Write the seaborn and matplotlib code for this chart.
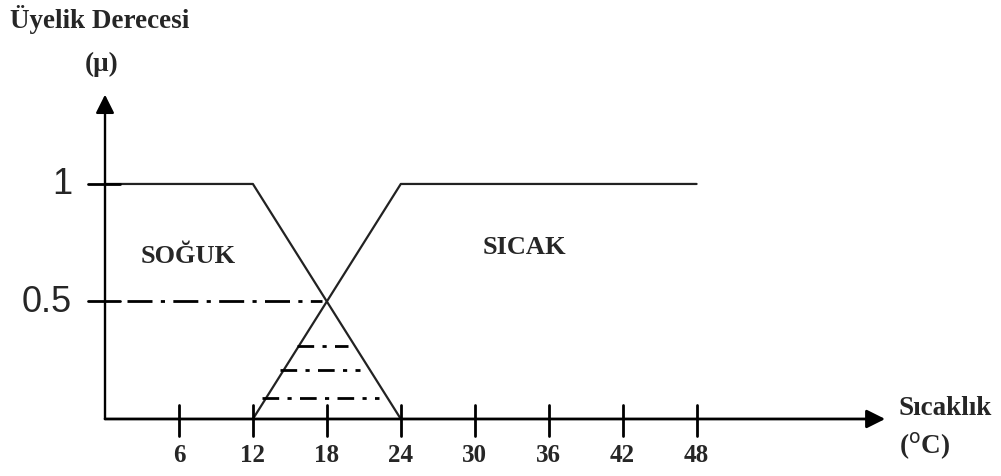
"""
Fuzzy membership functions: SOĞUK / SICAK over temperature.
"""

import numpy as np
import pandas as pd
import seaborn as sns
import matplotlib.pyplot as plt

# membership function corner points
soguk_x = [0, 12, 24]
soguk_y = [1, 1, 0]
sicak_x = [12, 24, 48]
sicak_y = [0, 1, 1]

# x axis ticks
x_ticks = [6, 12, 18, 24, 30, 36, 42, 48]
y_tick_values = [1, 0.5]
y_tick_labels = ['1', '0.5']

# dash-dot cut levels (alpha cuts) inside the overlap
cut_levels = [0.31, 0.21, 0.09]
cut_starts = [15.6, 14.2, 12.7]
cut_ends = [19.7, 20.7, 22.2]

SERIF = 'Liberation Serif'


def main():
    sns.set_style('white')
    plt.rcParams['font.family'] = ['Liberation Serif', 'DejaVu Serif']

    fig = plt.figure(figsize=(10.01, 4.77), dpi=100)
    ax = fig.add_axes([0, 0, 1, 1])
    ax.set_xlim(-8.52, 72.7)
    ax.set_ylim(-0.2426, 1.787)
    ax.axis('off')

    df = pd.DataFrame({
        'x': soguk_x + sicak_x,
        'y': soguk_y + sicak_y,
        'set': ['SOĞUK'] * 3 + ['SICAK'] * 3,
    })
    sns.lineplot(data=df, x='x', y='y', units='set', estimator=None, sort=False,
                 color='#222222', linewidth=1.6, ax=ax, legend=False)

    # axes with arrow heads
    ax.annotate('', xy=(63.3, 0), xytext=(0, 0),
                arrowprops=dict(arrowstyle='-|>', mutation_scale=28, lw=2,
                                color='black', shrinkA=0, shrinkB=0))
    ax.annotate('', xy=(0, 1.38), xytext=(0, 0),
                arrowprops=dict(arrowstyle='-|>', mutation_scale=28, lw=1.7,
                                color='black', shrinkA=0, shrinkB=0))

    # x ticks
    for t in x_ticks:
        ax.plot([t, t], [0.06, -0.072], color='black', lw=2)
        ax.text(t, -0.15, str(t), ha='center', va='center', fontsize=18,
                fontweight='bold', family=SERIF)

    # y ticks
    for v, lab in zip(y_tick_values, y_tick_labels):
        ax.plot([-1.4, 1.2], [v, v], color='black', lw=2)
    ax.text(-3.5, 1.0, '1', ha='center', va='center', fontsize=26,
            family='Liberation Sans')
    ax.text(-4.75, 0.498, '0.5', ha='center', va='center', fontsize=26,
            family='Liberation Sans')

    # dash-dot guide at 0.5
    ax.plot([1.8, 17.6], [0.5, 0.5], color='black', lw=2,
            linestyle=(0, (9, 3, 1.5, 3)))
    for lvl, x0, x1 in zip(cut_levels, cut_starts, cut_ends):
        ax.plot([x0, x1], [lvl, lvl], color='black', lw=2,
                linestyle=(0, (6, 3, 1.5, 3)))

    # labels
    ax.text(-7.71, 1.702, 'Üyelik Derecesi', ha='left', va='center',
            fontsize=19.5, fontweight='bold')
    ax.text(-0.24, 1.511, '(μ)', ha='center', va='center', fontsize=19.5,
            fontweight='bold')
    ax.text(6.74, 0.694, 'SOĞUK', ha='center', va='center', fontsize=19,
            fontweight='bold')
    ax.text(34.0, 0.732, 'SICAK', ha='center', va='center', fontsize=19,
            fontweight='bold')
    ax.text(64.4, 0.05, 'Sıcaklık', ha='left', va='center', fontsize=19.5,
            fontweight='bold')
    ax.text(64.4, -0.11, '($^{\\rm o}$C)', ha='left', va='center', fontsize=19.5,
            fontweight='bold')

    fig.savefig('out.png', dpi=100)


if __name__ == '__main__':
    main()
